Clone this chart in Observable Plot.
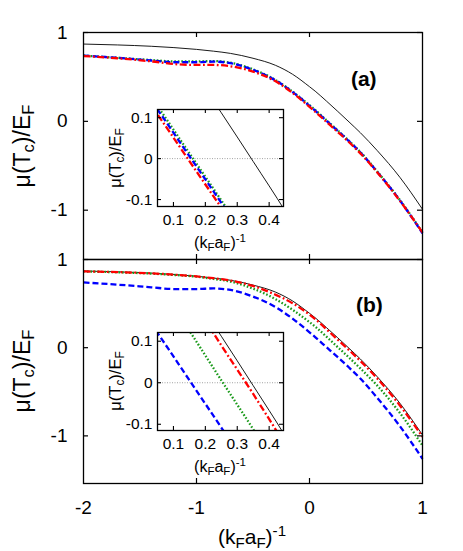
<!DOCTYPE html>
<html><head><meta charset="utf-8">
<script src="https://cdn.jsdelivr.net/npm/d3@7"></script>
<script src="https://cdn.jsdelivr.net/npm/@observablehq/plot@0.6"></script>
<style>
body{margin:0;background:#fff;}
#fig{position:relative;width:463px;height:551px;overflow:hidden;font-family:"Liberation Sans",Arial,sans-serif;background:#fff;}
#fig svg{position:absolute;}
.lbl{position:absolute;white-space:nowrap;color:#000;line-height:1;}
.rot{transform:translate(-50%,-50%) rotate(-90deg);}
.hc{transform:translate(-50%,0);}
sub{font-size:72%;vertical-align:-0.28em;line-height:0;}
sup{font-size:72%;vertical-align:0.55em;line-height:0;}
</style></head><body><div id="fig"></div>
<script>
// ---- data ----
const xs = [-2, -1.7, -1.4, -1.2, -1.0, -0.85, -0.7, -0.5, -0.3, -0.15, 0, 0.05, 0.15, 0.25, 0.35, 0.45, 0.6, 0.8, 1.0];
const blackMu  = [0.87, 0.86, 0.845, 0.83, 0.81, 0.79, 0.765, 0.71, 0.63, 0.53, 0.39, 0.34, 0.228, 0.112, -0.007, -0.128, -0.33, -0.63, -0.99];
const blueMu   = [0.74, 0.715, 0.685, 0.665, 0.665, 0.672, 0.655, 0.58, 0.46, 0.33, 0.175, 0.12, 0.006, -0.108, -0.225, -0.35, -0.57, -0.89, -1.26];
const greenMuA = [0.74, 0.715, 0.69, 0.675, 0.675, 0.678, 0.66, 0.585, 0.465, 0.335, 0.182, 0.128, 0.013, -0.102, -0.22, -0.345, -0.565, -0.885, -1.25];
const redMuA   = [0.735, 0.71, 0.675, 0.645, 0.635, 0.635, 0.62, 0.56, 0.45, 0.32, 0.163, 0.108, -0.006, -0.12, -0.235, -0.36, -0.575, -0.895, -1.25];
const greenMuB = [0.865, 0.855, 0.84, 0.825, 0.805, 0.78, 0.75, 0.67, 0.55, 0.43, 0.29, 0.24, 0.125, 0.006, -0.112, -0.235, -0.43, -0.74, -1.11];
const redMuB   = [0.865, 0.857, 0.843, 0.828, 0.808, 0.788, 0.762, 0.70, 0.60, 0.505, 0.375, 0.325, 0.21, 0.09, -0.027, -0.15, -0.35, -0.655, -1.01];
const xTicks = [-2, -1, 0, 1];
const yTicks = [-1, 0, 1];
const insetXTicks = [0.1, 0.2, 0.3, 0.4];
const insetYTicks = [-0.1, 0, 0.1];
const panelLabels = ["(a)", "(b)"];

// ---- helpers ----
const rows = ys => xs.map((x, i) => ({x, y: ys[i]}));
const fig = document.getElementById("fig");
const FONT = "Liberation Sans, Arial, sans-serif";

function seriesMarks(set, clip) {
  const common = {x: "x", y: "y", curve: "monotone-x", clip, strokeLinecap: "butt", strokeLinejoin: "miter"};
  return [
    Plot.line(rows(blackMu), {...common, stroke: "#000", strokeWidth: 0.9}),
    Plot.line(rows(set.green), {...common, stroke: "#1a9a1a", strokeWidth: 2.3, strokeDasharray: "1.6,1.9"}),
    Plot.line(rows(blueMu), {...common, stroke: "#0000ff", strokeWidth: 2.3, strokeDasharray: "6,3"}),
    Plot.line(rows(set.red), {...common, stroke: "#ff0000", strokeWidth: 2.3, strokeDasharray: "7,2.5,1.8,2.5"})
  ];
}

function place(svg, left, top) {
  svg.style.left = left + "px";
  svg.style.top = top + "px";
  fig.appendChild(svg);
}

function mainPanel(opts) {
  const W = 463, mL = 83, mR = 41;
  const innerW = W - mL - mR;
  const innerH = opts.height - opts.mt - opts.mb;
  const innerX = xTicks.slice(1, -1);
  const marks = [
    ...seriesMarks(opts.set, false),
    Plot.frame({stroke: "#000", strokeWidth: 1.3}),
    Plot.tickY(yTicks, {y: d => d, insetRight: innerW - 5, strokeWidth: 1.2}),
    Plot.tickY(yTicks, {y: d => d, insetLeft: innerW - 5, strokeWidth: 1.2}),
    Plot.tickX(innerX, {x: d => d, insetTop: innerH - 5, strokeWidth: 1.2}),
    Plot.tickX(innerX, {x: d => d, insetBottom: innerH - 5, strokeWidth: 1.2}),
    Plot.axisY({ticks: yTicks, tickSize: 0, tickPadding: 16, tickFormat: d => String(d), fontSize: 19, label: null}),
    Plot.text([opts.label], {x: () => opts.lx, y: () => opts.ly, text: d => d, fontWeight: "bold", fontSize: 21})
  ];
  if (opts.xlabels) marks.push(Plot.axisX({ticks: xTicks, tickSize: 0, tickPadding: 17, tickFormat: d => String(d), fontSize: 19, label: null}));
  const svg = Plot.plot({
    width: W, height: opts.height,
    marginTop: opts.mt, marginBottom: opts.mb, marginLeft: mL, marginRight: mR,
    x: {domain: [-2, 1], axis: opts.xlabels ? undefined : null},
    y: {domain: opts.ydomain},
    style: {background: "transparent", fontFamily: FONT, overflow: "visible", color: "#000"},
    marks
  });
  place(svg, 0, opts.top);
}

function insetPanel(opts) {
  const W = 190, mL = 57, mR = 7, mt = 9, mb = 40;
  const innerW = W - mL - mR;
  const innerH = opts.height - mt - mb;
  const svg = Plot.plot({
    width: W, height: opts.height,
    marginTop: mt, marginBottom: mb, marginLeft: mL, marginRight: mR,
    x: {domain: [0.05, 0.445]},
    y: {domain: opts.ydomain},
    style: {background: "transparent", fontFamily: FONT, overflow: "visible", color: "#000"},
    marks: [
      Plot.frame({fill: "#fff"}),
      Plot.ruleY([0], {stroke: "#8a8a8a", strokeWidth: 0.8, strokeDasharray: "1,1.5"}),
      ...seriesMarks(opts.set, true),
      Plot.frame({stroke: "#000", strokeWidth: 1.3}),
      Plot.tickY(insetYTicks, {y: d => d, insetRight: innerW - 4, strokeWidth: 1.1}),
      Plot.tickY(insetYTicks, {y: d => d, insetLeft: innerW - 4, strokeWidth: 1.1}),
      Plot.tickX(insetXTicks, {x: d => d, insetTop: innerH - 4, strokeWidth: 1.1}),
      Plot.tickX(insetXTicks, {x: d => d, insetBottom: innerH - 4, strokeWidth: 1.1}),
      Plot.axisY({ticks: insetYTicks, tickSize: 0, tickPadding: 5, tickFormat: d => String(d), fontSize: 15.5, label: null}),
      Plot.axisX({ticks: insetXTicks, tickSize: 0, tickPadding: 7, tickFormat: d => String(d), fontSize: 15.5, label: null})
    ]
  });
  place(svg, 100, opts.top);
}

function label(html, x, y, size, cls) {
  const d = document.createElement("div");
  d.className = "lbl " + cls;
  d.style.left = x + "px";
  d.style.top = y + "px";
  d.style.fontSize = size + "px";
  d.innerHTML = html;
  fig.appendChild(d);
}

const setA = {green: greenMuA, red: redMuA};
const setB = {green: greenMuB, red: redMuB};

mainPanel({top: 0, height: 260, mt: 32, mb: 1, ydomain: [-1.555, 1], set: setA, label: panelLabels[0], lx: 0.48, ly: 0.47, xlabels: false});
mainPanel({top: 258, height: 293, mt: 1, mb: 68, ydomain: [-1.54, 1], set: setB, label: panelLabels[1], lx: 0.53, ly: 0.48, xlabels: true});
insetPanel({top: 100, height: 146, ydomain: [-0.117, 0.12], set: setA});
insetPanel({top: 323, height: 147, ydomain: [-0.115, 0.121], set: setB});

const muLabel = "μ(T<sub>c</sub>)/E<sub>F</sub>";
const kLabel = "(k<sub>F</sub>a<sub>F</sub>)<sup>-1</sup>";
label(muLabel, 22, 145.5, 23, "rot");
label(muLabel, 22, 371, 23, "rot");
label(muLabel, 115, 157.5, 16.5, "rot");
label(muLabel, 115, 381, 16.5, "rot");
label(kLabel, 252, 526, 21, "hc");
label(kLabel, 220, 235, 16, "hc");
label(kLabel, 220, 459, 16, "hc");
</script></body></html>
